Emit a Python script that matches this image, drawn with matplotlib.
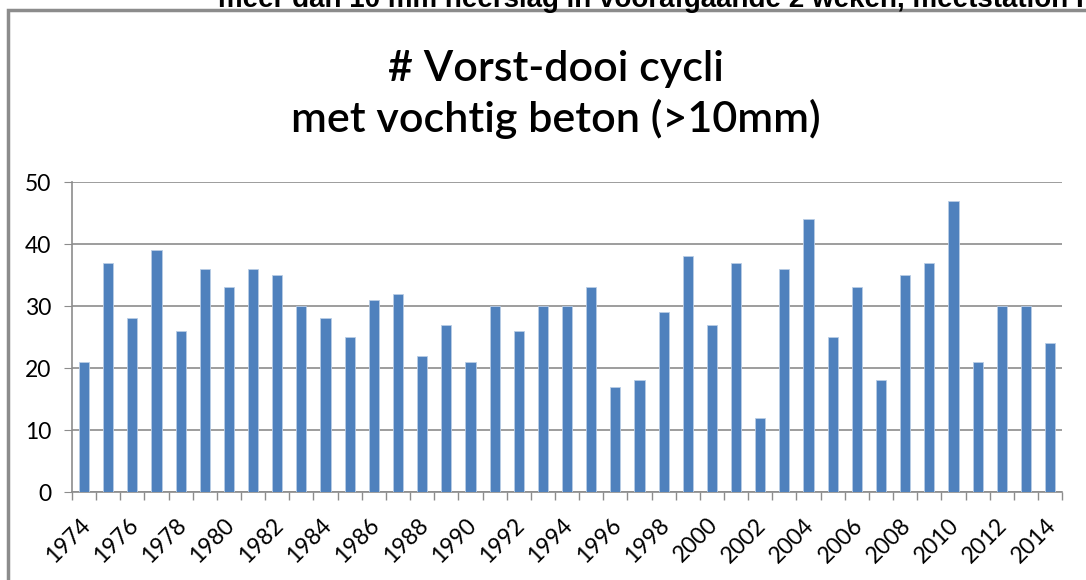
import matplotlib
matplotlib.use('Agg')
import matplotlib.pyplot as plt
from matplotlib.patches import Rectangle
from matplotlib.ticker import FixedLocator
from matplotlib.transforms import ScaledTranslation

years = list(range(1974, 2015))
cycles = [21, 37, 28, 39, 26, 36, 33, 36, 35, 30,
          28, 25, 31, 32, 22, 27, 21, 30, 26, 30,
          30, 33, 17, 18, 29, 38, 27, 37, 12, 36,
          44, 25, 33, 18, 35, 37, 47, 21, 30, 30, 24]
yticks = [0, 10, 20, 30, 40, 50]
title = '# Vorst-dooi cycli\nmet vochtig beton (>10mm)'
header = 'meer dan 10 mm neerslag in voorafgaande 2 weken, meetstation Rotterdam'

plt.rcParams['font.family'] = ['Lato', 'DejaVu Sans']

fig = plt.figure(figsize=(10.86, 5.8), dpi=100)
ax = fig.add_axes([0.0663, 0.1517, 0.9117, 0.5343])

pos = list(range(len(years)))
ax.bar(pos, cycles, width=0.42, color='#4F81BD', edgecolor='#B9CDE5', linewidth=0.6, zorder=3)

ax.set_xlim(-0.5, len(years) - 0.5)
ax.set_ylim(0, 50)
ax.set_yticks(yticks)
ax.yaxis.grid(True, color='#8C8C8C', linewidth=1.2, zorder=0)
ax.tick_params(axis='y', length=6, color='#8C8C8C', labelsize=16.5, pad=9)

ax.set_xticks(pos[::2])
ax.set_xticklabels([str(y) for y in years[::2]], rotation=45, ha='right',
                   va='top', rotation_mode='anchor', fontsize=16.5)
ax.tick_params(axis='x', which='major', length=0, pad=16)
ax.xaxis.set_minor_locator(FixedLocator([p - 0.5 for p in pos] + [len(years) - 0.5]))
ax.tick_params(axis='x', which='minor', length=6, color='#8C8C8C', width=1)
shift = ScaledTranslation(-5 / 100, 0, fig.dpi_scale_trans)
for lab in ax.get_xticklabels():
    lab.set_transform(lab.get_transform() + shift)

for s in ['top', 'right']:
    ax.spines[s].set_visible(False)
ax.spines['left'].set_color('#8C8C8C')
ax.spines['bottom'].set_color('#8C8C8C')
ax.spines['left'].set_linewidth(1.2)
ax.spines['bottom'].set_linewidth(1.2)

fig.text(0.512, 0.837, title, ha='center', va='center', fontsize=31,
         fontweight='semibold', linespacing=1.3)

# chart frame and clipped header line above it
fig.patches.append(Rectangle((8 / 1086, -0.1), 1.2, 1 - 10 / 580 + 0.1,
                             transform=fig.transFigure, fill=False,
                             edgecolor='#8C8C8C', linewidth=2.5))
fig.text(218 / 1086, 1 - 7 / 580, header, ha='left', va='baseline',
         fontsize=20, fontweight='bold', family=['Liberation Sans', 'DejaVu Sans'])

fig.savefig('out.png', dpi=100)
